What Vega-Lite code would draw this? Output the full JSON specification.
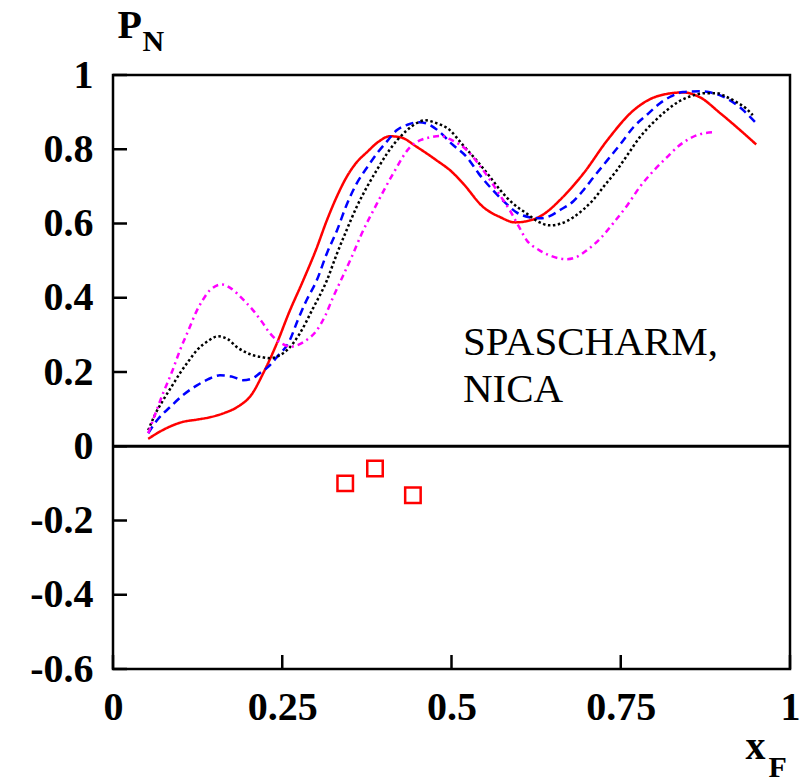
{
  "$schema": "https://vega.github.io/schema/vega-lite/v6.json",
  "width": 677,
  "height": 594,
  "autosize": {"type": "none"},
  "padding": {"left": 113, "top": 75, "right": 17, "bottom": 113},
  "background": "white",
  "config": {
    "font": "Liberation Serif",
    "view": {"stroke": "black", "strokeWidth": 2.5},
    "text": {"font": "Liberation Serif"},
    "axis": {
      "grid": false,
      "domain": false,
      "ticks": false,
      "labelFont": "Liberation Serif",
      "labelFontWeight": "bold",
      "labelColor": "black",
      "labelFlush": false,
      "labelOverlap": false,
      "titleFont": "Liberation Serif",
      "titleFontWeight": "bold",
      "titleColor": "black"
    }
  },
  "datasets": {
    "curves": [
      {"series": "a", "xf": 0.052, "pn": 0.02}, {"series": "a", "xf": 0.075, "pn": 0.045}, {"series": "a", "xf": 0.102, "pn": 0.065}, {"series": "a", "xf": 0.125, "pn": 0.072}, {"series": "a", "xf": 0.143, "pn": 0.078}, {"series": "a", "xf": 0.165, "pn": 0.09}, {"series": "a", "xf": 0.183, "pn": 0.105}, {"series": "a", "xf": 0.205, "pn": 0.14}, {"series": "a", "xf": 0.222, "pn": 0.197}, {"series": "a", "xf": 0.242, "pn": 0.277}, {"series": "a", "xf": 0.26, "pn": 0.36}, {"series": "a", "xf": 0.281, "pn": 0.447}, {"series": "a", "xf": 0.3, "pn": 0.53}, {"series": "a", "xf": 0.316, "pn": 0.609}, {"series": "a", "xf": 0.33, "pn": 0.67}, {"series": "a", "xf": 0.345, "pn": 0.725}, {"series": "a", "xf": 0.36, "pn": 0.765}, {"series": "a", "xf": 0.375, "pn": 0.792}, {"series": "a", "xf": 0.392, "pn": 0.82}, {"series": "a", "xf": 0.409, "pn": 0.835}, {"series": "a", "xf": 0.425, "pn": 0.832}, {"series": "a", "xf": 0.449, "pn": 0.806}, {"series": "a", "xf": 0.478, "pn": 0.77}, {"series": "a", "xf": 0.5, "pn": 0.74}, {"series": "a", "xf": 0.517, "pn": 0.708}, {"series": "a", "xf": 0.547, "pn": 0.644}, {"series": "a", "xf": 0.572, "pn": 0.617}, {"series": "a", "xf": 0.594, "pn": 0.603}, {"series": "a", "xf": 0.621, "pn": 0.611}, {"series": "a", "xf": 0.64, "pn": 0.63}, {"series": "a", "xf": 0.66, "pn": 0.663}, {"series": "a", "xf": 0.695, "pn": 0.735}, {"series": "a", "xf": 0.73, "pn": 0.824}, {"series": "a", "xf": 0.769, "pn": 0.905}, {"series": "a", "xf": 0.808, "pn": 0.945}, {"series": "a", "xf": 0.842, "pn": 0.953}, {"series": "a", "xf": 0.867, "pn": 0.94}, {"series": "a", "xf": 0.897, "pn": 0.897}, {"series": "a", "xf": 0.921, "pn": 0.86}, {"series": "a", "xf": 0.95, "pn": 0.813},
      {"series": "b", "xf": 0.052, "pn": 0.035}, {"series": "b", "xf": 0.065, "pn": 0.07}, {"series": "b", "xf": 0.084, "pn": 0.105}, {"series": "b", "xf": 0.105, "pn": 0.14}, {"series": "b", "xf": 0.124, "pn": 0.164}, {"series": "b", "xf": 0.14, "pn": 0.18}, {"series": "b", "xf": 0.158, "pn": 0.191}, {"series": "b", "xf": 0.175, "pn": 0.188}, {"series": "b", "xf": 0.192, "pn": 0.178}, {"series": "b", "xf": 0.205, "pn": 0.182}, {"series": "b", "xf": 0.217, "pn": 0.197}, {"series": "b", "xf": 0.23, "pn": 0.215}, {"series": "b", "xf": 0.242, "pn": 0.24}, {"series": "b", "xf": 0.261, "pn": 0.285}, {"series": "b", "xf": 0.273, "pn": 0.34}, {"series": "b", "xf": 0.285, "pn": 0.39}, {"series": "b", "xf": 0.301, "pn": 0.447}, {"series": "b", "xf": 0.316, "pn": 0.52}, {"series": "b", "xf": 0.331, "pn": 0.582}, {"series": "b", "xf": 0.345, "pn": 0.65}, {"series": "b", "xf": 0.36, "pn": 0.708}, {"series": "b", "xf": 0.375, "pn": 0.75}, {"series": "b", "xf": 0.39, "pn": 0.789}, {"series": "b", "xf": 0.405, "pn": 0.822}, {"series": "b", "xf": 0.419, "pn": 0.851}, {"series": "b", "xf": 0.435, "pn": 0.866}, {"series": "b", "xf": 0.452, "pn": 0.873}, {"series": "b", "xf": 0.465, "pn": 0.868}, {"series": "b", "xf": 0.483, "pn": 0.846}, {"series": "b", "xf": 0.5, "pn": 0.815}, {"series": "b", "xf": 0.523, "pn": 0.778}, {"series": "b", "xf": 0.54, "pn": 0.735}, {"series": "b", "xf": 0.561, "pn": 0.69}, {"series": "b", "xf": 0.58, "pn": 0.655}, {"series": "b", "xf": 0.596, "pn": 0.63}, {"series": "b", "xf": 0.615, "pn": 0.617}, {"series": "b", "xf": 0.631, "pn": 0.614}, {"series": "b", "xf": 0.645, "pn": 0.62}, {"series": "b", "xf": 0.66, "pn": 0.636}, {"series": "b", "xf": 0.68, "pn": 0.66}, {"series": "b", "xf": 0.695, "pn": 0.69}, {"series": "b", "xf": 0.71, "pn": 0.725}, {"series": "b", "xf": 0.73, "pn": 0.77}, {"series": "b", "xf": 0.75, "pn": 0.815}, {"series": "b", "xf": 0.769, "pn": 0.86}, {"series": "b", "xf": 0.79, "pn": 0.895}, {"series": "b", "xf": 0.808, "pn": 0.924}, {"series": "b", "xf": 0.825, "pn": 0.943}, {"series": "b", "xf": 0.842, "pn": 0.954}, {"series": "b", "xf": 0.867, "pn": 0.956}, {"series": "b", "xf": 0.897, "pn": 0.945}, {"series": "b", "xf": 0.926, "pn": 0.913}, {"series": "b", "xf": 0.95, "pn": 0.87},
      {"series": "c", "xf": 0.052, "pn": 0.043}, {"series": "c", "xf": 0.062, "pn": 0.085}, {"series": "c", "xf": 0.074, "pn": 0.124}, {"series": "c", "xf": 0.087, "pn": 0.162}, {"series": "c", "xf": 0.099, "pn": 0.197}, {"series": "c", "xf": 0.112, "pn": 0.23}, {"series": "c", "xf": 0.124, "pn": 0.259}, {"series": "c", "xf": 0.14, "pn": 0.283}, {"series": "c", "xf": 0.155, "pn": 0.296}, {"series": "c", "xf": 0.17, "pn": 0.288}, {"series": "c", "xf": 0.183, "pn": 0.267}, {"series": "c", "xf": 0.195, "pn": 0.254}, {"series": "c", "xf": 0.207, "pn": 0.245}, {"series": "c", "xf": 0.22, "pn": 0.24}, {"series": "c", "xf": 0.232, "pn": 0.237}, {"series": "c", "xf": 0.245, "pn": 0.244}, {"series": "c", "xf": 0.257, "pn": 0.259}, {"series": "c", "xf": 0.276, "pn": 0.304}, {"series": "c", "xf": 0.295, "pn": 0.37}, {"series": "c", "xf": 0.316, "pn": 0.447}, {"series": "c", "xf": 0.33, "pn": 0.515}, {"series": "c", "xf": 0.345, "pn": 0.582}, {"series": "c", "xf": 0.36, "pn": 0.645}, {"series": "c", "xf": 0.375, "pn": 0.698}, {"series": "c", "xf": 0.39, "pn": 0.745}, {"series": "c", "xf": 0.405, "pn": 0.789}, {"series": "c", "xf": 0.42, "pn": 0.825}, {"series": "c", "xf": 0.434, "pn": 0.851}, {"series": "c", "xf": 0.448, "pn": 0.87}, {"series": "c", "xf": 0.461, "pn": 0.878}, {"series": "c", "xf": 0.475, "pn": 0.872}, {"series": "c", "xf": 0.498, "pn": 0.851}, {"series": "c", "xf": 0.515, "pn": 0.815}, {"series": "c", "xf": 0.537, "pn": 0.77}, {"series": "c", "xf": 0.555, "pn": 0.73}, {"series": "c", "xf": 0.572, "pn": 0.69}, {"series": "c", "xf": 0.59, "pn": 0.655}, {"series": "c", "xf": 0.611, "pn": 0.627}, {"series": "c", "xf": 0.628, "pn": 0.605}, {"series": "c", "xf": 0.645, "pn": 0.595}, {"series": "c", "xf": 0.662, "pn": 0.6}, {"series": "c", "xf": 0.68, "pn": 0.617}, {"series": "c", "xf": 0.695, "pn": 0.638}, {"series": "c", "xf": 0.709, "pn": 0.663}, {"series": "c", "xf": 0.725, "pn": 0.7}, {"series": "c", "xf": 0.744, "pn": 0.743}, {"series": "c", "xf": 0.76, "pn": 0.785}, {"series": "c", "xf": 0.778, "pn": 0.832}, {"series": "c", "xf": 0.798, "pn": 0.872}, {"series": "c", "xf": 0.818, "pn": 0.905}, {"series": "c", "xf": 0.837, "pn": 0.93}, {"series": "c", "xf": 0.857, "pn": 0.945}, {"series": "c", "xf": 0.875, "pn": 0.951}, {"series": "c", "xf": 0.892, "pn": 0.951}, {"series": "c", "xf": 0.905, "pn": 0.942}, {"series": "c", "xf": 0.921, "pn": 0.927}, {"series": "c", "xf": 0.935, "pn": 0.91}, {"series": "c", "xf": 0.945, "pn": 0.892},
      {"series": "d", "xf": 0.052, "pn": 0.035}, {"series": "d", "xf": 0.062, "pn": 0.085}, {"series": "d", "xf": 0.074, "pn": 0.143}, {"series": "d", "xf": 0.087, "pn": 0.2}, {"series": "d", "xf": 0.099, "pn": 0.259}, {"series": "d", "xf": 0.112, "pn": 0.315}, {"series": "d", "xf": 0.124, "pn": 0.366}, {"series": "d", "xf": 0.133, "pn": 0.395}, {"series": "d", "xf": 0.143, "pn": 0.42}, {"series": "d", "xf": 0.161, "pn": 0.436}, {"series": "d", "xf": 0.172, "pn": 0.428}, {"series": "d", "xf": 0.183, "pn": 0.412}, {"series": "d", "xf": 0.195, "pn": 0.39}, {"series": "d", "xf": 0.207, "pn": 0.366}, {"series": "d", "xf": 0.22, "pn": 0.335}, {"series": "d", "xf": 0.232, "pn": 0.304}, {"series": "d", "xf": 0.251, "pn": 0.275}, {"series": "d", "xf": 0.262, "pn": 0.268}, {"series": "d", "xf": 0.272, "pn": 0.272}, {"series": "d", "xf": 0.285, "pn": 0.285}, {"series": "d", "xf": 0.301, "pn": 0.312}, {"series": "d", "xf": 0.313, "pn": 0.35}, {"series": "d", "xf": 0.325, "pn": 0.401}, {"series": "d", "xf": 0.34, "pn": 0.46}, {"series": "d", "xf": 0.355, "pn": 0.52}, {"series": "d", "xf": 0.365, "pn": 0.563}, {"series": "d", "xf": 0.39, "pn": 0.654}, {"series": "d", "xf": 0.414, "pn": 0.735}, {"series": "d", "xf": 0.439, "pn": 0.806}, {"series": "d", "xf": 0.455, "pn": 0.825}, {"series": "d", "xf": 0.468, "pn": 0.832}, {"series": "d", "xf": 0.483, "pn": 0.836}, {"series": "d", "xf": 0.5, "pn": 0.825}, {"series": "d", "xf": 0.523, "pn": 0.797}, {"series": "d", "xf": 0.54, "pn": 0.76}, {"series": "d", "xf": 0.557, "pn": 0.717}, {"series": "d", "xf": 0.572, "pn": 0.675}, {"series": "d", "xf": 0.586, "pn": 0.636}, {"series": "d", "xf": 0.6, "pn": 0.59}, {"series": "d", "xf": 0.611, "pn": 0.555}, {"series": "d", "xf": 0.628, "pn": 0.53}, {"series": "d", "xf": 0.645, "pn": 0.514}, {"series": "d", "xf": 0.67, "pn": 0.504}, {"series": "d", "xf": 0.685, "pn": 0.51}, {"series": "d", "xf": 0.7, "pn": 0.528}, {"series": "d", "xf": 0.72, "pn": 0.56}, {"series": "d", "xf": 0.739, "pn": 0.601}, {"series": "d", "xf": 0.76, "pn": 0.65}, {"series": "d", "xf": 0.778, "pn": 0.698}, {"series": "d", "xf": 0.8, "pn": 0.745}, {"series": "d", "xf": 0.818, "pn": 0.778}, {"series": "d", "xf": 0.835, "pn": 0.808}, {"series": "d", "xf": 0.852, "pn": 0.829}, {"series": "d", "xf": 0.87, "pn": 0.842}, {"series": "d", "xf": 0.889, "pn": 0.846}
    ],
    "squares": [
      {"xf": 0.343, "pn": -0.1},
      {"xf": 0.387, "pn": -0.06},
      {"xf": 0.443, "pn": -0.132}
    ],
    "notes": [
      {"xf": 0.517, "pn": 0.245, "label": "SPASCHARM,"},
      {"xf": 0.517, "pn": 0.118, "label": "NICA"}
    ],
    "zeroline": [
      {"pn": 0}
    ],
    "yticks": [
      {"pn": -0.6}, {"pn": -0.4}, {"pn": -0.2}, {"pn": 0}, {"pn": 0.2}, {"pn": 0.4}, {"pn": 0.6}, {"pn": 0.8}, {"pn": 1}
    ],
    "xticks": [
      {"xf": 0}, {"xf": 0.25}, {"xf": 0.5}, {"xf": 0.75}, {"xf": 1}
    ]
  },
  "resolve": {"axis": {"x": "independent", "y": "independent"}},
  "layer": [
    {
      "data": {"name": "zeroline"},
      "mark": {"type": "rule", "color": "black", "strokeWidth": 3},
      "encoding": {
        "y": {"field": "pn", "type": "quantitative", "axis": null}
      }
    },
    {
      "data": {"name": "yticks"},
      "mark": {"type": "rule", "color": "black", "strokeWidth": 2.5},
      "encoding": {
        "y": {"field": "pn", "type": "quantitative", "axis": null},
        "x": {"datum": 0, "type": "quantitative", "axis": null},
        "x2": {"datum": 0.0207}
      }
    },
    {
      "data": {"name": "xticks"},
      "mark": {"type": "rule", "color": "black", "strokeWidth": 2.5},
      "encoding": {
        "x": {"field": "xf", "type": "quantitative", "axis": null},
        "y": {"datum": -0.6, "type": "quantitative", "axis": null},
        "y2": {"datum": -0.5623}
      }
    },
    {
      "data": {"name": "curves"},
      "mark": {"type": "line", "interpolate": "monotone", "strokeWidth": 2.5},
      "encoding": {
        "x": {
          "field": "xf", "type": "quantitative",
          "scale": {"domain": [0, 1], "nice": false, "zero": false},
          "axis": {
            "orient": "bottom",
            "values": [0, 0.25, 0.5, 0.75, 1],
            "labelExpr": "format(datum.value, '~g')",
            "labelFontSize": 40,
            "labelPadding": 18,
            "title": "x",
            "titleFontSize": 40,
            "titleAlign": "left",
            "titleBaseline": "alphabetic",
            "titleX": 632,
            "titleY": 89
          }
        },
        "y": {
          "field": "pn", "type": "quantitative",
          "scale": {"domain": [-0.6, 1], "nice": false, "zero": false},
          "axis": {
            "orient": "left",
            "values": [-0.6, -0.4, -0.2, 0, 0.2, 0.4, 0.6, 0.8, 1],
            "labelExpr": "datum.value < 0 ? '-' + format(-datum.value, '~g') : format(datum.value, '~g')",
            "labelFontSize": 40,
            "labelPadding": 20,
            "labelBaseline": "middle",
            "title": "P",
            "titleAngle": 0,
            "titleFontSize": 40,
            "titleAlign": "left",
            "titleBaseline": "alphabetic",
            "titleX": 4,
            "titleY": -38
          }
        },
        "color": {
          "field": "series", "type": "nominal", "legend": null,
          "scale": {"domain": ["a", "b", "c", "d"], "range": ["#ff0000", "#0000ff", "#000000", "#ff00ff"]}
        },
        "strokeDash": {
          "field": "series", "type": "nominal", "legend": null,
          "scale": {"domain": ["a", "b", "c", "d"], "range": [[1, 0], [8, 5], [2.5, 2.5], [6, 4, 2, 4]]}
        }
      }
    },
    {
      "data": {"name": "squares"},
      "mark": {"type": "point", "shape": "square", "filled": false, "color": "#ff0000", "strokeWidth": 2.5, "size": 240, "opacity": 1},
      "encoding": {
        "x": {
          "field": "xf", "type": "quantitative",
          "axis": {
            "orient": "top", "labels": false, "domain": false,
            "title": "F", "titleFontSize": 30, "titleAlign": "left", "titleBaseline": "alphabetic",
            "titleX": 655, "titleY": 701
          }
        },
        "y": {
          "field": "pn", "type": "quantitative",
          "axis": {
            "orient": "right", "labels": false, "domain": false,
            "title": "N", "titleAngle": 0, "titleFontSize": 30, "titleAlign": "left", "titleBaseline": "alphabetic",
            "titleX": -648, "titleY": -25
          }
        }
      }
    },
    {
      "data": {"name": "notes"},
      "mark": {"type": "text", "align": "left", "baseline": "alphabetic", "font": "Liberation Serif", "fontSize": 41, "fontWeight": "normal", "color": "black"},
      "encoding": {
        "x": {"field": "xf", "type": "quantitative", "axis": null},
        "y": {"field": "pn", "type": "quantitative", "axis": null},
        "text": {"field": "label"}
      }
    }
  ]
}
